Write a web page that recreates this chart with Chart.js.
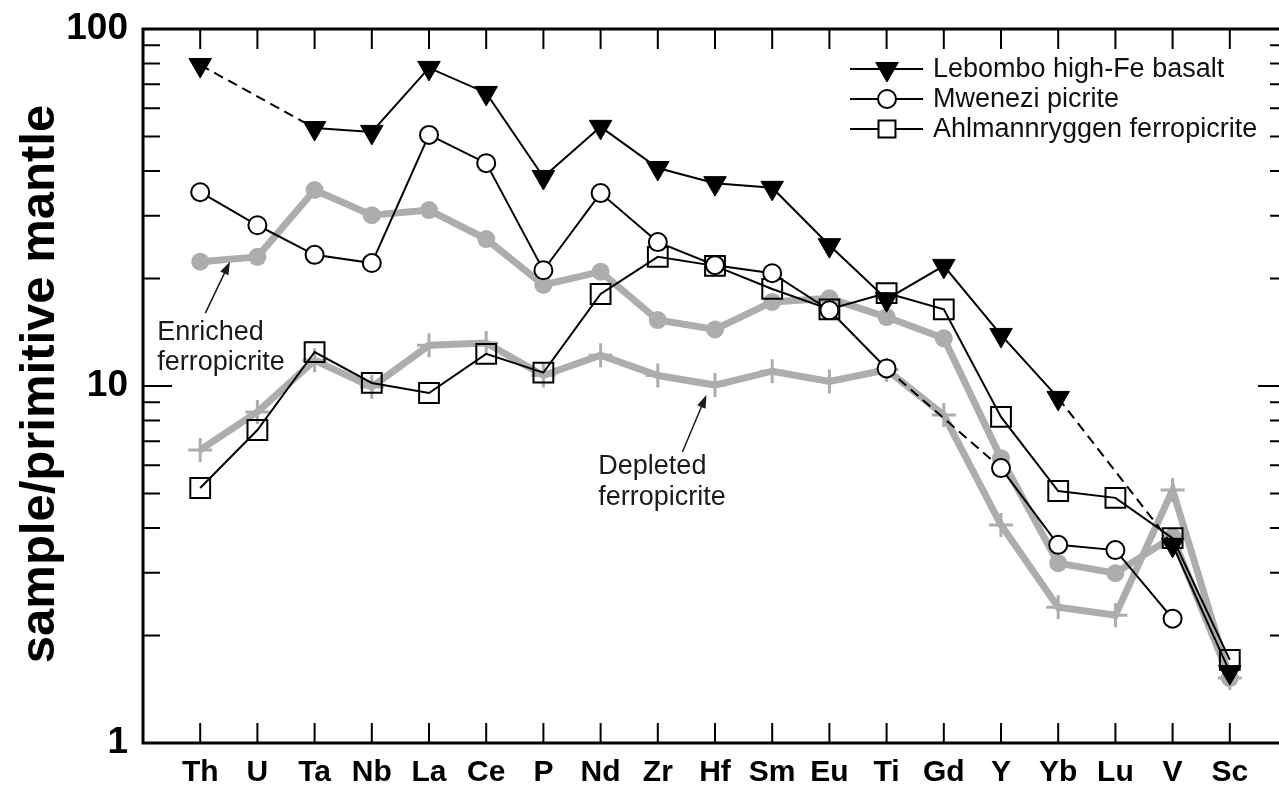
<!DOCTYPE html>
<html lang="en">
<head>
<meta charset="UTF-8">
<title>Primitive mantle normalised trace elements</title>
<script src="https://cdn.jsdelivr.net/npm/chart.js@4.4.1/dist/chart.umd.min.js"></script>
<style>
  html, body { margin: 0; padding: 0; overflow: hidden; background: #fff; }
  canvas { display: block; }
</style>
</head>
<body>
<canvas id="spider" width="1279" height="785"></canvas>
<script>
    // element order along the x axis
    var elements = ['Th', 'U', 'Ta', 'Nb', 'La', 'Ce', 'P', 'Nd', 'Zr', 'Hf', 'Sm', 'Eu', 'Ti', 'Gd', 'Y', 'Yb', 'Lu', 'V', 'Sc'];

    // sample / primitive mantle, null = not analysed
    var lebombo  = [79.3, null, 52.8, 51.5, 77.8, 66.2, 38.5, 53.2, 40.8, 37.0, 35.9, 24.8, 17.5, 21.7, 13.9, 9.26, null, 3.59, 1.58];
    var mwenezi  = [34.9, 28.2, 23.3, 22.1, 50.5, 42.1, 21.1, 34.7, 25.3, 21.8, 20.7, 16.3, 11.2, null, 5.89, 3.59, 3.47, 2.23, null];
    var ahlmann  = [5.18, 7.53, 12.45, 10.2, 9.56, 12.3, 10.9, 18.1, 23.0, 21.7, 18.7, 16.4, 18.2, 16.4, 8.19, 5.08, 4.86, 3.75, 1.71];
    var enriched = [22.3, 23.0, 35.4, 30.1, 31.1, 25.8, 19.2, 20.9, 15.3, 14.4, 17.2, 17.6, 15.6, 13.6, 6.28, 3.19, 2.99, 3.78, 1.52];
    var depleted = [6.62, 8.46, 11.8, 9.94, 13.0, 13.2, 10.7, 12.2, 10.7, 10.06, 11.0, 10.3, 11.1, 8.29, 4.08, 2.40, 2.28, 5.11, 1.52];

    var majorTicks = [1, 10, 100];
    var minorTicks = [2, 3, 4, 5, 6, 7, 8, 9, 20, 30, 40, 50, 60, 70, 80, 90];

    var GREY = '#adadad';
    var FONT = "'Liberation Sans', Arial, sans-serif";

    function toPoints(vals) {
        return vals.map(function (v, i) { return {x: i, y: v}; });
    }

    // dashed where the line bridges a missing element
    var gapDash = function (c) {
        return (c.p0.skip || c.p1.skip) ? [10, 6] : undefined;
    };

    var notes = [
        {text: ['Enriched', 'ferropicrite'], x: -0.75, y: [14.1, 11.6], tail: [0.09, 16.0], tip: [0.52, 22.3]},
        {text: ['Depleted', 'ferropicrite'], x: 6.96, y: [5.93, 4.86], tail: [8.43, 6.53], tip: [8.85, 9.44]}
    ];

    function arrow(ctx, x0, y0, x1, y1) {
        var ang = Math.atan2(y1 - y0, x1 - x0);
        var c = Math.cos(ang), s = Math.sin(ang);
        ctx.beginPath();
        ctx.moveTo(x0, y0);
        ctx.lineTo(x1 - c * 8, y1 - s * 8);
        ctx.stroke();
        ctx.beginPath();
        ctx.moveTo(x1, y1);
        ctx.lineTo(x1 - 13 * c + 4.5 * s, y1 - 13 * s - 4.5 * c);
        ctx.lineTo(x1 - 13 * c - 4.5 * s, y1 - 13 * s + 4.5 * c);
        ctx.closePath();
        ctx.fill();
    }

    var decorations = {
        id: 'decorations',
        afterDatasetsDraw: function (chart) {
            var ctx = chart.ctx, a = chart.chartArea;
            var xs = chart.scales.x, ys = chart.scales.y;
            // the right-hand axis sits just past the canvas edge
            var rightEdge = xs.getPixelForValue(19);
            ctx.save();

            // frame with inward ticks
            ctx.strokeStyle = '#000';
            ctx.lineWidth = 3;
            ctx.beginPath();
            ctx.moveTo(rightEdge, a.top);
            ctx.lineTo(a.left, a.top);
            ctx.lineTo(a.left, a.bottom);
            ctx.lineTo(rightEdge, a.bottom);
            ctx.lineTo(rightEdge, a.top);
            ctx.stroke();
            ctx.lineWidth = 2;
            ctx.beginPath();
            elements.forEach(function (e, i) {
                var px = xs.getPixelForValue(i);
                ctx.moveTo(px, a.top); ctx.lineTo(px, a.top + 20);
                ctx.moveTo(px, a.bottom); ctx.lineTo(px, a.bottom - 20);
            });
            majorTicks.concat(minorTicks).forEach(function (v) {
                var py = ys.getPixelForValue(v);
                var len = majorTicks.indexOf(v) >= 0 ? 29 : 17;
                ctx.moveTo(a.left, py); ctx.lineTo(a.left + len, py);
                ctx.moveTo(rightEdge, py); ctx.lineTo(rightEdge - len, py);
            });
            ctx.stroke();

            // y axis title
            ctx.save();
            ctx.translate(54, 384);
            ctx.rotate(-Math.PI / 2);
            ctx.fillStyle = '#000';
            ctx.font = 'bold 49px ' + FONT;
            ctx.textAlign = 'center';
            ctx.textBaseline = 'alphabetic';
            ctx.fillText('sample/primitive mantle', 0, 0);
            ctx.restore();

            // labelled arrows
            ctx.fillStyle = '#1a1a1a';
            ctx.strokeStyle = '#1a1a1a';
            ctx.lineWidth = 1.5;
            ctx.font = '27px ' + FONT;
            ctx.textAlign = 'left';
            ctx.textBaseline = 'middle';
            notes.forEach(function (n) {
                n.text.forEach(function (t, k) {
                    ctx.fillText(t, xs.getPixelForValue(n.x), ys.getPixelForValue(n.y[k]));
                });
                arrow(ctx,
                    xs.getPixelForValue(n.tail[0]), ys.getPixelForValue(n.tail[1]),
                    xs.getPixelForValue(n.tip[0]), ys.getPixelForValue(n.tip[1]));
            });

            // legend for the three black series
            var lx = 850, ly = 69, rowH = 30;
            chart.data.datasets.slice(0, 3).forEach(function (ds, k) {
                var y = ly + k * rowH;
                ctx.strokeStyle = '#000';
                ctx.lineWidth = 2;
                ctx.beginPath();
                ctx.moveTo(lx, y); ctx.lineTo(lx + 73, y);
                ctx.stroke();
                ctx.fillStyle = ds.pointStyle === 'triangle' ? '#000' : '#fff';
                ctx.lineWidth = ds.pointBorderWidth;
                Chart.helpers.drawPoint(ctx, {
                    pointStyle: ds.pointStyle,
                    rotation: ds.pointRotation || 0,
                    radius: ds.pointStyle === 'rect' ? 12 : ds.pointRadius,
                    borderWidth: ds.pointBorderWidth
                }, lx + 37, y);
                ctx.fillStyle = '#111';
                ctx.fillText(ds.label, lx + 83, y + 1);
            });
            ctx.restore();
        }
    };

    var config = {
        type: 'line',
        data: {
            datasets: [{
                label: 'Lebombo high-Fe basalt',
                data: toPoints(lebombo),
                borderColor: '#000',
                borderWidth: 2,
                pointStyle: 'triangle',
                pointRotation: 180,
                pointRadius: 13,
                pointBackgroundColor: '#000',
                pointBorderColor: '#000',
                pointBorderWidth: 1,
                spanGaps: true,
                segment: {borderDash: gapDash}
            }, {
                label: 'Mwenezi picrite',
                data: toPoints(mwenezi),
                borderColor: '#000',
                borderWidth: 2,
                pointStyle: 'circle',
                pointRadius: 9,
                pointBackgroundColor: '#fff',
                pointBorderColor: '#000',
                pointBorderWidth: 2,
                spanGaps: true,
                segment: {borderDash: gapDash}
            }, {
                label: 'Ahlmannryggen ferropicrite',
                data: toPoints(ahlmann),
                borderColor: '#000',
                borderWidth: 2,
                pointStyle: 'rect',
                pointRadius: 14,
                pointBackgroundColor: 'rgba(0,0,0,0)',
                pointBorderColor: '#000',
                pointBorderWidth: 2
            }, {
                label: 'Enriched ferropicrite',
                data: toPoints(enriched),
                borderColor: GREY,
                borderWidth: 7,
                pointStyle: 'circle',
                pointRadius: 9,
                pointBackgroundColor: GREY,
                pointBorderColor: GREY,
                pointBorderWidth: 0
            }, {
                label: 'Depleted ferropicrite',
                data: toPoints(depleted),
                borderColor: GREY,
                borderWidth: 7,
                pointStyle: 'cross',
                pointRadius: 12,
                pointBorderColor: GREY,
                pointBorderWidth: 3
            }]
        },
        options: {
            responsive: false,
            animation: false,
            devicePixelRatio: 1,
            layout: {autoPadding: false, padding: {top: 29, right: 0, left: 0, bottom: 0}},
            elements: {line: {tension: 0, fill: false}},
            plugins: {legend: {display: false}, tooltip: {enabled: false}},
            scales: {
                x: {
                    type: 'linear',
                    min: -1,
                    max: 18.86,
                    grid: {display: false, drawTicks: false},
                    border: {display: false},
                    afterBuildTicks: function (s) {
                        s.ticks = elements.map(function (e, i) { return {value: i}; });
                    },
                    ticks: {
                        autoSkip: false,
                        maxRotation: 0,
                        padding: 12,
                        color: '#000',
                        font: {family: FONT, size: 30, weight: 'bold'},
                        callback: function (v) { return elements[v]; }
                    },
                    afterFit: function (s) {
                        s.height = 42;
                        s.paddingLeft = 0;
                        s.paddingRight = 0;
                    }
                },
                y: {
                    type: 'logarithmic',
                    min: 1,
                    max: 100,
                    grid: {display: false, drawTicks: false},
                    border: {display: false},
                    afterBuildTicks: function (s) {
                        s.ticks = majorTicks.map(function (v) { return {value: v}; });
                    },
                    ticks: {
                        padding: 15,
                        color: '#000',
                        font: {family: FONT, size: 37, weight: 'bold'},
                        callback: function (v) { return String(v); }
                    },
                    afterFit: function (s) {
                        s.width = 143;
                        s.paddingTop = 0;
                        s.paddingBottom = 0;
                    }
                }
            }
        },
        plugins: [decorations]
    };

    var ctx = document.getElementById('spider').getContext('2d');
    new Chart(ctx, config);
</script>
</body>
</html>
